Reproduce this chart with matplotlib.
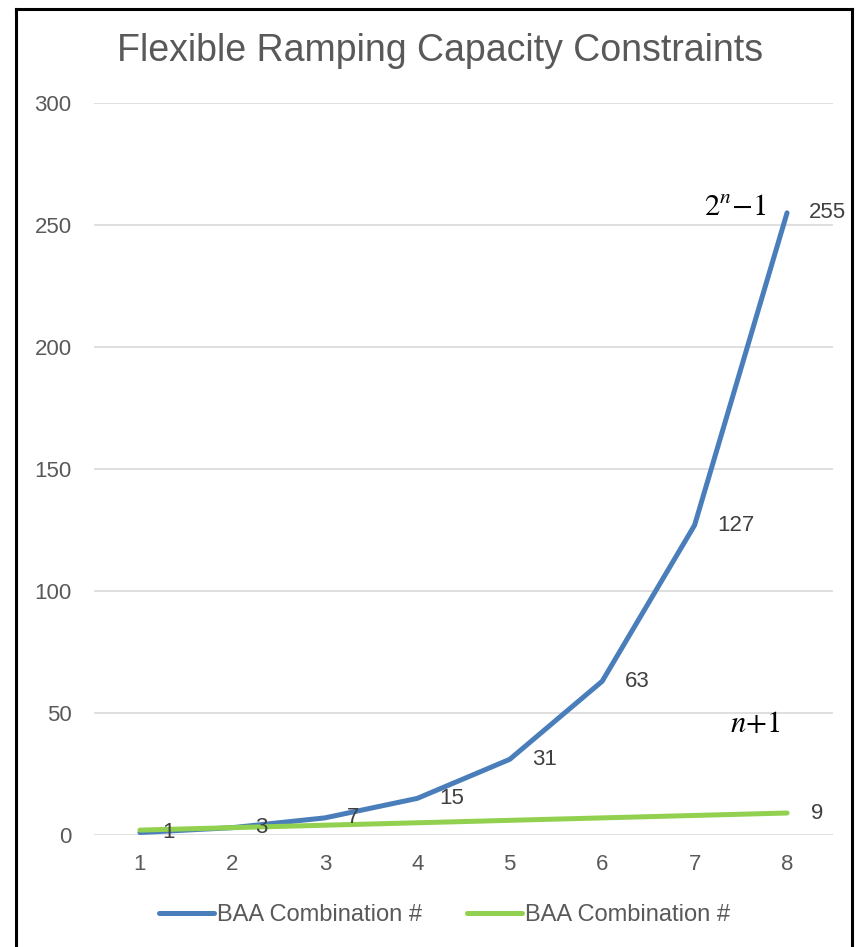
import matplotlib.pyplot as plt
from matplotlib.lines import Line2D

plt.rcParams['font.family'] = ['Liberation Sans', 'DejaVu Sans']
plt.rcParams['mathtext.fontset'] = 'stix'

# data
n_values = [1, 2, 3, 4, 5, 6, 7, 8]
combos = [1, 3, 7, 15, 31, 63, 127, 255]   # 2^n - 1
linear = [2, 3, 4, 5, 6, 7, 8, 9]          # n + 1
y_ticks = [0, 50, 100, 150, 200, 250, 300]

blue = '#4A7EBB'
green = '#92D050'
grey = '#595959'

fig = plt.figure(figsize=(8.68, 9.47), dpi=100)
ax = fig.add_axes([0.108, 0.1183, 0.852, 0.7729])

ax.plot(n_values, combos, color=blue, lw=3.6, solid_capstyle='round',
        label='BAA Combination #', zorder=3)
ax.plot(n_values, linear, color=green, lw=3.6, solid_capstyle='round',
        label='BAA Combination #', zorder=4)

# data labels
for x, y in zip(n_values, combos):
    ax.annotate(str(y), (x, y), xytext=(16, 0), textcoords='offset points',
                ha='left', va='center', fontsize=16, color='#404040', zorder=5)
ax.annotate(str(linear[-1]), (n_values[-1], linear[-1]), xytext=(17, 0),
            textcoords='offset points', ha='left', va='center',
            fontsize=16, color='#404040')

# formula annotations
ax.text(7.1, 254, r'$2^{n}{-}1$', fontsize=22, color='black', va='baseline')
ax.text(7.38, 42, r'$n{+}1$', fontsize=22, color='black', va='baseline')

ax.set_xlim(0.5, 8.5)
ax.set_ylim(0, 300)
ax.set_xticks(n_values)
ax.set_yticks(y_ticks)
ax.tick_params(length=0, labelsize=16, labelcolor=grey)
ax.tick_params(axis='x', pad=14)
ax.tick_params(axis='y', pad=16)
ax.grid(axis='y', color='#D9D9D9', lw=1.2)
ax.set_axisbelow(True)
for s in ax.spines.values():
    s.set_visible(False)

fig.text(0.507, 0.946, 'Flexible Ramping Capacity Constraints', ha='center',
         va='center', fontsize=27, color=grey)

fig.legend(loc='center', bbox_to_anchor=(0.512, 0.034), ncol=2, frameon=False,
           fontsize=17, handlelength=2.35, handletextpad=0.12, columnspacing=1.9,
           labelcolor=grey)

# frame around the chart
fig.add_artist(Line2D([0.018, 0.018], [0.0, 0.991], color='black', lw=2.2))
fig.add_artist(Line2D([0.018, 0.981], [0.991, 0.991], color='black', lw=2.2))
fig.add_artist(Line2D([0.981, 0.981], [0.0, 0.991], color='black', lw=2.2))

fig.savefig('out.png', dpi=100)
